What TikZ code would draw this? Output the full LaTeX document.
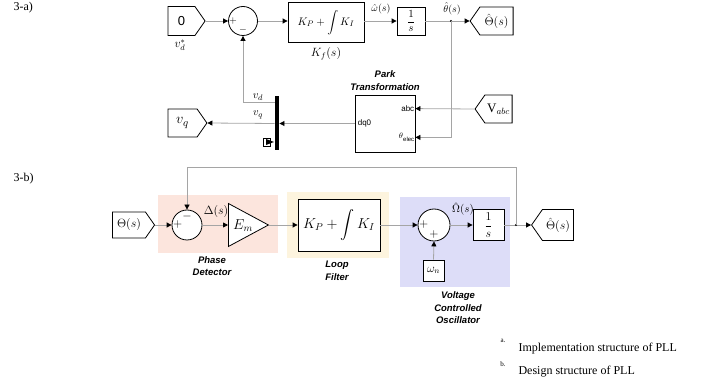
\documentclass[tikz,border=0pt]{standalone}
\usepackage{amsmath, amssymb}
\usepackage{fontspec}
\setmainfont{Liberation Serif}
\newfontfamily\arialf{Liberation Sans}
\usepackage{tikz}
\usetikzlibrary{arrows.meta, positioning, calc, shapes.geometric, shapes.symbols}

\definecolor{linegray}{RGB}{165,165,165}
\definecolor{pdfill}{RGB}{252,229,221}
\definecolor{lffill}{RGB}{253,244,222}
\definecolor{vcofill}{RGB}{221,221,248}

\tikzset{
  sig/.style={linegray, line width=0.8pt, -{Triangle[black, length=5pt, width=5pt]}},
  blk/.style={draw, line width=0.8pt, fill=white, inner sep=1pt},
  inport/.style={blk, signal, signal to=east, signal pointer angle=110},
  outport/.style={blk, signal, signal to=west, signal pointer angle=110},
  sumc/.style={draw, circle, line width=0.8pt, fill=white, inner sep=0pt},
  sgn/.style={font=\fontsize{10}{10}\selectfont, inner sep=0pt},
  title/.style={font=\arialf\bfseries\itshape\fontsize{9.5}{12.5}\selectfont, align=center},
  port/.style={font=\arialf\fontsize{8}{9}\selectfont, inner sep=1pt},
  mlab/.style={font=\fontsize{11}{12}\selectfont, inner sep=0pt},
}

\begin{document}
\begin{tikzpicture}[x=1pt, y=-1pt, every node/.style={font=\fontsize{11}{13}\selectfont}]
\useasboundingbox (0,0) rectangle (710,387);

% ---------- 3-a) implementation ----------
\node[anchor=west, font=\fontsize{12}{14}\selectfont] (laba) at (10,8) {3-a)};

\node[inport, minimum width=37pt, minimum height=29pt, font=\fontsize{13}{14}\selectfont] (in0) at (181.5,21) {\arialf 0};
\node[mlab, font=\fontsize{12}{13}\selectfont] (vdref) at (180,45) {$v_d^{*}$};
\node[sumc, minimum size=29pt] (sum1) at (243,21) {};
\node[sgn] at ($(sum1.west)+(5,0)$) {$+$};
\node[sgn] at ($(sum1.south)+(0,-6)$) {$-$};
\node[blk, minimum width=76pt, minimum height=40pt] (pi1) at (326,22.5) {$K_P+\displaystyle\int K_I$};
\node[mlab, font=\fontsize{12}{13}\selectfont] (kf) at (326,54) {$K_f(s)$};
\node[blk, minimum width=28pt, minimum height=28pt, inner sep=0pt] (integ1) at (411,21) {$\dfrac{1}{s}$};
\node[outport, minimum width=43pt, minimum height=28pt, font=\fontsize{12}{13}\selectfont] (out1) at (496.5,21) {$\hat{\Theta}(s)$};
\coordinate (br1) at (451,21);

% Park block and bus
\node[blk, minimum width=60pt, minimum height=57pt] (park) at (385,123.5) {};
\node[title] (parkt) at (385,80.5) {Park\\Transformation};
\coordinate (pabc) at ($(park.north east)+(0,14)$);
\coordinate (pth) at ($(park.south east)+(0,-15)$);
\node[port, anchor=east] at (pabc) {abc};
\node[port, anchor=east] at (pth) {$\theta$\raisebox{-3pt}{\fontsize{6}{6}\selectfont elec}};
\node[port, anchor=west] at ($(park.west)+(2,0)$) {dq0};
\node[outport, minimum width=37pt, minimum height=28pt, font=\fontsize{13}{14}\selectfont] (vabc) at (498.5,109) {$\mathrm{V}_{abc}$};
\node[fill=black, minimum width=4.5pt, minimum height=54pt, inner sep=0pt] (bus) at (277,123) {};
\node[inport, minimum width=39pt, minimum height=28pt, font=\fontsize{15}{15}\selectfont] (vq) at (182.5,123) {$v_q$};
\coordinate (vdtap) at ($(bus.north west)+(0,7)$);
\node[mlab] at (258,97) {$v_d$};
\node[mlab] at (258,115) {$v_q$};

% connectors a)
\draw[sig] (in0.east) -- (sum1.west);
\draw[sig] (sum1.east) -- (pi1.west |- sum1.east);
\draw[sig] (pi1.east |- integ1.west) -- (integ1.west);
\draw[sig] (integ1.east) -- (out1.west);
\fill (br1) circle (1.1);
\draw[sig] (br1) |- (pth);
\draw[sig] (vabc.west) -- (pabc);
\draw[sig] (park.west) -- (bus.east |- park.west);
\draw[sig] (bus.west |- park.west) -- (vq.east);
\draw[sig] (vdtap) -| (sum1.south);
\node[mlab, font=\fontsize{10}{11}\selectfont] at (381,9) {$\hat{\omega}(s)$};
\node[mlab, font=\fontsize{10}{11}\selectfont] at (452,9) {$\hat{\theta}(s)$};
% bus icon
\draw[line width=0.6pt] (263,138) rectangle (270,146);
\fill (266,139) -- (274,142) -- (266,145) -- cycle;

% ---------- 3-b) design ----------
\node[anchor=west, font=\fontsize{12}{14}\selectfont] (labb) at (10,179) {3-b)};

\fill[pdfill] (158,195) rectangle (278,253);
\fill[lffill] (287,192) rectangle (389,258);
\fill[vcofill] (400,197) rectangle (510,287);
\node[title] (pdt) at (212,266) {Phase\\Detector};
\node[title] (lft) at (337,271) {Loop\\Filter};
\node[title] (vcot) at (458,308) {Voltage\\Controlled\\Oscillator};

\node[inport, minimum width=42pt, minimum height=26pt, font=\fontsize{13}{14}\selectfont] (thin) at (129,225) {$\Theta(s)$};
\node[sumc, minimum size=30pt] (sum2) at (187,225) {};
\node[sgn, font=\fontsize{12}{12}\selectfont] at ($(sum2.west)+(6,0)$) {$+$};
\node[sgn, font=\fontsize{12}{12}\selectfont] at ($(sum2.north)+(0,7)$) {$-$};
\node[draw, fill=white, line width=0.8pt, isosceles triangle, isosceles triangle stretches, minimum width=43pt, minimum height=40pt, inner sep=0pt, anchor=west] (gain) at (228,225) {};
\node[font=\fontsize{14}{15}\selectfont] at (243,226) {$E_m$};
\node[blk, minimum width=82pt, minimum height=52pt, font=\fontsize{14}{16}\selectfont] (pi2) at (339,225) {$K_P+\displaystyle\int K_I$};
\node[sumc, minimum size=32pt] (sum3) at (434,225) {};
\node[sgn, font=\fontsize{12}{12}\selectfont] at ($(sum3.west)+(6,0)$) {$+$};
\node[sgn, font=\fontsize{12}{12}\selectfont] at ($(sum3.south)+(0,-7)$) {$+$};
\node[blk, minimum width=21pt, minimum height=21pt, inner sep=0pt, font=\fontsize{12}{13}\selectfont] (wn) at (433.5,270.5) {$\omega_n$};
\node[blk, minimum width=31pt, minimum height=31pt, inner sep=0pt, font=\fontsize{12}{13}\selectfont] (integ2) at (488.5,225) {$\dfrac{1}{s}$};
\node[outport, minimum width=42pt, minimum height=31pt, font=\fontsize{13}{14}\selectfont] (out2) at (558,225) {$\hat{\Theta}(s)$};
\coordinate (br2) at (516,225);
\coordinate (fbtop) at (516,167);

% connectors b)
\draw[sig] (thin.east) -- (sum2.west);
\draw[sig] (sum2.east) -- (gain.west);
\draw[sig] (gain.apex) -- (pi2.west);
\draw[sig] (pi2.east) -- (sum3.west);
\draw[sig] (wn.north) -- (sum3.south);
\draw[sig] (sum3.east) -- (integ2.west);
\draw[sig] (integ2.east) -- (out2.west);
\fill (br2) circle (1.1);
\draw[sig] (br2) -- (fbtop) -| (sum2.north);
\node[mlab, font=\fontsize{12}{13}\selectfont] at (216,212) {$\Delta(s)$};
\node[mlab, font=\fontsize{11}{12}\selectfont] at (463,209) {$\hat{\Omega}(s)$};

% captions
\node[font=\fontsize{7}{8}\selectfont] (capa) at (503,341) {a.};
\node[anchor=west, font=\fontsize{12}{14}\selectfont] (capat) at (515,349) {Implementation structure of PLL};
\node[font=\fontsize{7}{8}\selectfont] (capb) at (503,364) {b.};
\node[anchor=west, font=\fontsize{12}{14}\selectfont] (capbt) at (515,372) {Design structure of PLL};
\end{tikzpicture}
\end{document}
